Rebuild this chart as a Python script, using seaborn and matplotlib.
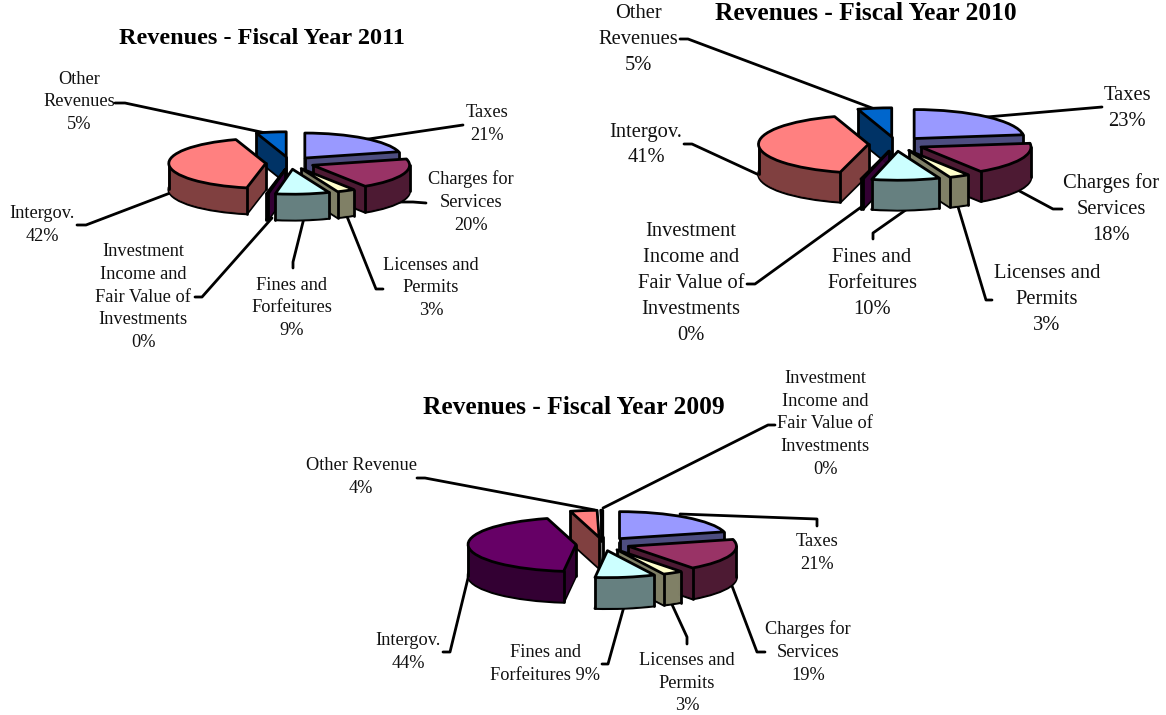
#!/usr/bin/env python3
import numpy as np
import matplotlib
matplotlib.use("Agg")
import matplotlib.pyplot as plt
import seaborn as sns

WIDTH, HEIGHT = 1166, 715
EXPLODE = 0.25
EDGE_LW = 2.0

# slice colours
TAXES = "#9999FF"
CHARGES = "#993366"
LICENSES = "#FFFFCC"
FINES = "#CCFFFF"
PURPLE = "#660066"
SALMON = "#FF8080"
BLUE = "#0066CC"

# Fiscal year 2011 (Taxes, Charges, Licenses, Fines, Investment, Intergov, Other)
values_2011 = [21, 20, 3, 9, 0.3, 42, 5]
colors_2011 = [TAXES, CHARGES, LICENSES, FINES, PURPLE, SALMON, BLUE]
labels_2011 = ["Taxes\n21%", "Charges for\nServices\n20%", "Licenses and\nPermits\n3%",
               "Fines and\nForfeitures\n9%",
               "Investment\nIncome and\nFair Value of\nInvestments\n0%",
               "Intergov.\n42%", "Other\nRevenues\n5%"]
label_xy_2011 = [(487, 124), (471, 202), (431, 288), (292, 308), (143, 297), (42, 225), (79, 102)]
leaders_2011 = [
    [(463, 125), (355, 141)],
    [(426, 203), (413, 202), (395, 202)],
    [(383, 289), (376, 289), (346, 214)],
    [(293, 268), (293, 262), (304, 218)],
    [(195, 297), (202, 297), (272, 218)],
    [(77, 225), (86, 225), (178, 190)],
    [(115, 103), (125, 103), (275, 135)],
]

# Fiscal year 2010
values_2010 = [23, 18, 3, 10, 0.3, 41, 5]
colors_2010 = [TAXES, CHARGES, LICENSES, FINES, PURPLE, SALMON, BLUE]
labels_2010 = ["Taxes\n23%", "Charges for\nServices\n18%", "Licenses and\nPermits\n3%",
               "Fines and\nForfeitures\n10%",
               "Investment\nIncome and\nFair Value of\nInvestments\n0%",
               "Intergov.\n41%", "Other\nRevenues\n5%"]
label_xy_2010 = [(1127, 108), (1111, 209), (1047, 300), (872, 283), (691, 284), (646, 145), (638, 40)]
leaders_2010 = [
    [(1102, 107), (975, 118)],
    [(1062, 209), (1053, 209), (1012, 187)],
    [(992, 300), (986, 300), (956, 200)],
    [(873, 239), (873, 233), (910, 207)],
    [(747, 284), (755, 284), (864, 205)],
    [(684, 144), (692, 144), (770, 180)],
    [(680, 39), (688, 39), (880, 111)],
]

# Fiscal year 2009 has a different slice order
values_2009 = [21, 19, 3, 9, 44, 4, 0.3]
colors_2009 = [TAXES, CHARGES, LICENSES, FINES, PURPLE, SALMON, "#FFFFFF"]
labels_2009 = ["Taxes\n21%", "Charges for\nServices\n19%", "Licenses and\nPermits\n3%",
               "Fines and\nForfeitures 9%", "Intergov.\n44%", "Other Revenue\n4%",
               "Investment\nIncome and\nFair Value of\nInvestments\n0%"]
label_xy_2009 = [(817, 553), (808, 652), (687, 683), (545, 664), (408, 652), (361, 477), (825, 424)]
leaders_2009 = [
    [(817, 526), (817, 519), (680, 514)],
    [(765, 652), (757, 652), (729, 578)],
    [(687, 644), (687, 637), (669, 598)],
    [(602, 664), (608, 664), (625, 603)],
    [(443, 652), (450, 652), (470, 570)],
    [(417, 478), (425, 478), (595, 510)],
    [(775, 425), (768, 425), (603, 508)],
]


def draw_pie(fig, cx, cy, rx, ry, depth, values, colors):
    """Extruded, exploded pie: a stack of ax.pie layers squashed by the axes."""
    pad = 1.6
    y_low = -pad - depth / ry
    ax = fig.add_axes([(cx - pad * rx) / WIDTH,
                       1 - (cy - y_low * ry) / HEIGHT,
                       2 * pad * rx / WIDTH,
                       (pad - y_low) * ry / HEIGHT])
    palette = sns.color_palette(colors)
    dark = [tuple(c * 0.5 for c in col) for col in palette]

    fracs = np.array(values, dtype=float) / sum(values)
    ends = np.cumsum(fracs) * 360
    starts = ends - fracs * 360
    mids = np.radians((starts + ends) / 2)
    # paint back slices first
    ranks = np.argsort(np.argsort(-np.cos(mids)))

    for k in range(depth, -1, -1):
        wedges, _ = ax.pie(values, colors=dark if k else palette, explode=[EXPLODE] * len(values),
                           startangle=90, counterclock=False, center=(0, -k / ry), radius=1)
        for i, w in enumerate(wedges):
            w.set_zorder(ranks[i] * 1000 + depth - k)
            if k in (0, depth):
                w.set_edgecolor("black")
                w.set_linewidth(EDGE_LW)
            else:
                w.set_edgecolor(dark[i])
                w.set_linewidth(0.5)
            w.set_joinstyle("round")

    # vertical edges of the side walls, only where the wall can be seen
    for i in range(len(values)):
        ox, oy = EXPLODE * np.sin(mids[i]), EXPLODE * np.cos(mids[i])
        start, end = np.radians(starts[i]), np.radians(ends[i])
        angles = [a for a in (90, 270) if starts[i] < a < ends[i]]
        if np.sin(start) < -1e-6 or np.cos(start) < 0:
            angles.append(starts[i])
        if np.sin(end) > 1e-6 or np.cos(end) < 0:
            angles.append(ends[i])
        points = [(ox + np.sin(np.radians(a)), oy + np.cos(np.radians(a))) for a in angles]
        if not starts[i] < 180 < ends[i]:
            points.append((ox, oy))
        for x, y in points:
            ax.plot([x, x], [y, y - depth / ry], color="black", lw=EDGE_LW,
                    solid_capstyle="round", zorder=ranks[i] * 1000 + depth - 0.5)

    ax.set_aspect("auto")
    ax.set_xlim(-pad, pad)
    ax.set_ylim(y_low, pad)
    return ax


def draw_labels(overlay, labels, label_xy, leaders, size, spacing):
    for text, (x, y) in zip(labels, label_xy):
        overlay.text(x, y, text, ha="center", va="center", fontsize=size,
                     linespacing=spacing, multialignment="center", color="#111111")
    for line in leaders:
        xs, ys = zip(*line)
        overlay.plot(xs, ys, color="black", lw=EDGE_LW, solid_capstyle="round")


def main():
    sns.set_theme(style="white", font="Liberation Serif")
    fig = plt.figure(figsize=(WIDTH / 100, HEIGHT / 100), dpi=100)

    overlay = fig.add_axes([0, 0, 1, 1])
    overlay.set_xlim(0, WIDTH)
    overlay.set_ylim(HEIGHT, 0)
    overlay.axis("off")

    draw_labels(overlay, labels_2011, label_xy_2011, leaders_2011, 13.2, 1.44)
    draw_labels(overlay, labels_2010, label_xy_2010, leaders_2010, 14.8, 1.5)
    draw_labels(overlay, labels_2009, label_xy_2009, leaders_2009, 13.2, 1.44)

    overlay.text(262, 39, "Revenues - Fiscal Year 2011", ha="center", va="center",
                 fontsize=17.5, fontweight="bold", color="black")
    overlay.text(866, 14, "Revenues - Fiscal Year 2010", ha="center", va="center",
                 fontsize=18.4, fontweight="bold", color="black")
    overlay.text(574, 408, "Revenues - Fiscal Year 2009", ha="center", va="center",
                 fontsize=18.4, fontweight="bold", color="black")

    draw_pie(fig, 290, 163, 97, 25, 26, values_2011, colors_2011)
    draw_pie(fig, 896, 144, 110, 29, 30, values_2010, colors_2010)
    draw_pie(fig, 603, 544, 108, 27, 31, values_2009, colors_2009)

    fig.savefig("out.png", dpi=100, facecolor="white")
    plt.close(fig)


if __name__ == "__main__":
    main()
